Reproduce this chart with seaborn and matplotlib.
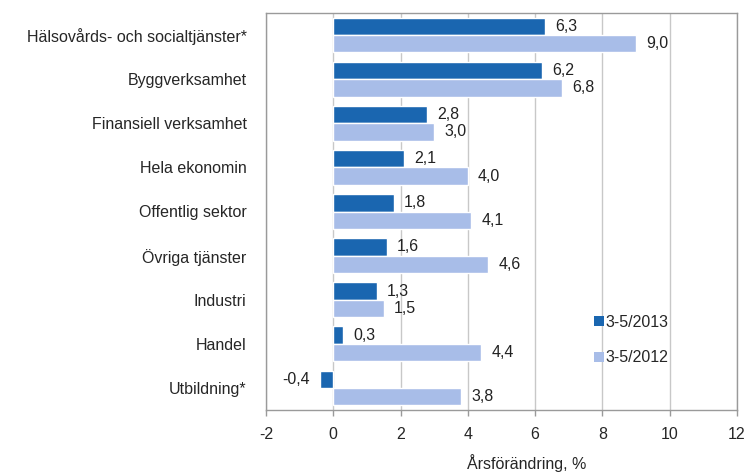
import matplotlib
matplotlib.use("Agg")
import matplotlib.pyplot as plt
import seaborn as sns
import pandas as pd
from matplotlib.patches import Patch

categories = ["Hälsovårds- och socialtjänster*", "Byggverksamhet", "Finansiell verksamhet",
              "Hela ekonomin", "Offentlig sektor", "Övriga tjänster", "Industri", "Handel",
              "Utbildning*"]
series_names = ["3-5/2013", "3-5/2012"]
values_2013 = [6.3, 6.2, 2.8, 2.1, 1.8, 1.6, 1.3, 0.3, -0.4]
values_2012 = [9.0, 6.8, 3.0, 4.0, 4.1, 4.6, 1.5, 4.4, 3.8]
x_ticks = [-2, 0, 2, 4, 6, 8, 10, 12]
x_label = "Årsförändring, %"

colors = ["#1a66b0", "#a8bde8"]

sns.set_style("white")
plt.rcParams["font.family"] = ["Liberation Sans", "DejaVu Sans"]

df = pd.DataFrame({
    "Kategori": categories * 2,
    "Värde": values_2013 + values_2012,
    "Serie": [series_names[0]] * len(categories) + [series_names[1]] * len(categories),
})

W, H = 745, 472
fig = plt.figure(figsize=(W / 100, H / 100), dpi=100)
left, right, top, bottom = 266, 737, 13, 410
ax = fig.add_axes([left / W, 1 - bottom / H, (right - left) / W, (bottom - top) / H])

sns.barplot(data=df, y="Kategori", x="Värde", hue="Serie", order=categories,
            hue_order=series_names, palette=colors, orient="h", width=0.79,
            saturation=1, ax=ax, legend=False, zorder=3)

ax.set_xlim(-2, 12)
ax.set_ylim(len(categories) - 0.5, -0.5)
ax.set_xticks(x_ticks)
ax.set_xticklabels([str(t) for t in x_ticks], fontsize=11.5)
ax.tick_params(axis="y", labelsize=11.5, length=0, pad=14)
ax.tick_params(axis="x", bottom=True, length=4, width=1, color="#9a9a9a",
               direction="out", pad=8)
ax.set_ylabel("")
ax.set_xlabel(x_label, fontsize=11.5, labelpad=9, x=0.553)
ax.xaxis.grid(True, color="#c8c8c8", linewidth=1, zorder=0)
ax.set_axisbelow(True)
for s in ax.spines.values():
    s.set_color("#9a9a9a")
    s.set_linewidth(1)

for container in ax.containers:
    for bar in container:
        w = bar.get_width()
        y = bar.get_y() + bar.get_height() / 2
        txt = f"{w:.1f}".replace(".", ",")
        if w >= 0:
            ax.text(w + 0.3, y, txt, va="center", ha="left", fontsize=11.5, color="#222222")
        else:
            ax.text(w - 0.3, y, txt, va="center", ha="right", fontsize=11.5, color="#222222")

handles = [Patch(facecolor=c, edgecolor="none") for c in colors]
ax.legend(handles, series_names, loc="center left", bbox_to_anchor=(594 / W, 1 - 340 / H),
          bbox_transform=fig.transFigure, borderpad=0, borderaxespad=0,
          frameon=False, fontsize=11.5, handlelength=0.6, handleheight=0.6,
          handletextpad=0.1, labelspacing=1.3)

fig.savefig("out.png", dpi=100)
